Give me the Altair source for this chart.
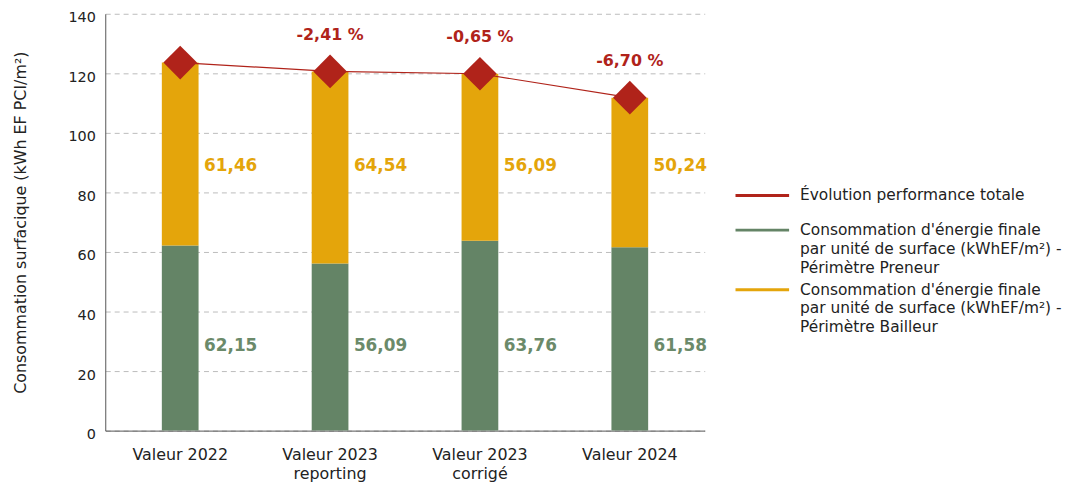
import altair as alt
import pandas as pd

categories = ["Valeur 2022", "Valeur 2023\nreporting", "Valeur 2023\ncorrigé", "Valeur 2024"]
preneur = [62.15, 56.09, 63.76, 61.58]
bailleur = [61.46, 64.54, 56.09, 50.24]
evolution = ["", "-2,41 %", "-0,65 %", "-6,70 %"]

s_evo = "Évolution performance totale"
s_pre = "Consommation d'énergie finale\npar unité de surface (kWhEF/m²) -\nPérimètre Preneur"
s_bai = "Consommation d'énergie finale\npar unité de surface (kWhEF/m²) -\nPérimètre Bailleur"
legend_names = [s_evo, s_pre, s_bai]

RED = "#B0231A"
GREEN = "#648466"
ORANGE = "#E4A50B"
legend_colors = [RED, GREEN, ORANGE]
FONT = "DejaVu Sans"

def fr(v):
    return f"{v:.2f}".replace(".", ",")

rows = []
for c, p, b in zip(categories, preneur, bailleur):
    rows.append({"cat": c, "series": s_pre, "value": p, "ord": 0})
    rows.append({"cat": c, "series": s_bai, "value": b, "ord": 1})
bars_df = pd.DataFrame(rows)

tot_df = pd.DataFrame({
    "cat": categories,
    "total": [p + b for p, b in zip(preneur, bailleur)],
    "evo": evolution,
    "pre": [fr(v) for v in preneur],
    "bai": [fr(v) for v in bailleur],
})

xenc = alt.X("cat:N", sort=categories, title=None,
             axis=alt.Axis(labelExpr="split(datum.label, '\\n')", labelAngle=0,
                           labelFontSize=16, labelColor="#222222", labelFont=FONT,
                           labelPadding=16, ticks=False, domainColor="#555555",
                           labelLineHeight=19),
             scale=alt.Scale(paddingInner=0.0, paddingOuter=0.0))

yscale = alt.Scale(domain=[0, 140])

bars = alt.Chart(bars_df).mark_bar(size=37).encode(
    x=xenc,
    y=alt.Y("value:Q", stack="zero", scale=yscale,
            title="Consommation surfacique (kWh EF PCI/m²)",
            axis=alt.Axis(values=[0, 20, 40, 60, 80, 100, 120, 140], ticks=False,
                          labelFontSize=14.5, labelColor="#222222", labelFont=FONT,
                          labelPadding=10, labelOffset=4, titleFont=FONT, titleFontSize=16,
                          titleFontWeight="normal", titleColor="#222222", titlePadding=40,
                          gridDash=[5, 4], gridColor="#BBBBBB", domainColor="#555555")),
    color=alt.Color("series:N",
                    scale=alt.Scale(domain=[s_evo, s_pre, s_bai], range=[RED, GREEN, ORANGE]),
                    legend=None),
    order=alt.Order("ord:Q"),
)

line = alt.Chart(tot_df).mark_line(color=RED, strokeWidth=1.2).encode(
    x=alt.X("cat:N", sort=categories), y=alt.Y("total:Q", scale=yscale))

pts = alt.Chart(tot_df).mark_point(shape="diamond", filled=True, size=1150,
                                   color=RED, opacity=1).encode(
    x=alt.X("cat:N", sort=categories), y=alt.Y("total:Q", scale=yscale))

evo_txt = alt.Chart(tot_df).mark_text(color=RED, fontSize=16, fontWeight="bold",
                                      font=FONT, dy=-37).encode(
    x=alt.X("cat:N", sort=categories), y=alt.Y("total:Q", scale=yscale), text="evo:N")

bai_txt = alt.Chart(tot_df).mark_text(color=ORANGE, fontSize=17, fontWeight="bold",
                                      font=FONT, align="left", dx=24).encode(
    x=alt.X("cat:N", sort=categories), y=alt.value(153), text="bai:N")

pre_txt = alt.Chart(tot_df).mark_text(color="#6B8A6A", fontSize=17, fontWeight="bold",
                                      font=FONT, align="left", dx=24).encode(
    x=alt.X("cat:N", sort=categories), y=alt.value(335), text="pre:N")

# manual legend
legend_layers = []
legend_y = [183, 218, 278]
for name, col, ly in zip(legend_names, legend_colors, legend_y):
    ldf = pd.DataFrame({"name": [name]})
    legend_layers.append(
        alt.Chart(ldf).mark_rule(color=col, strokeWidth=3).encode(
            x=alt.value(635), x2=alt.value(689), y=alt.value(ly)))
    legend_layers.append(
        alt.Chart(ldf).mark_text(align="left", baseline="alphabetic", font=FONT,
                                 fontSize=15.5, color="#222222", lineBreak="\n",
                                 lineHeight=19).encode(
            x=alt.value(700), y=alt.value(ly + 5), text="name:N"))

chart = alt.layer(bars, line, pts, evo_txt, bai_txt, pre_txt, *legend_layers).properties(
    width=604, height=420,
    autosize=alt.AutoSizeParams(type="none"),
    padding={"left": 98, "top": 4, "right": 365, "bottom": 56},
).configure_view(stroke=None).configure_axisX(grid=False)

chart.save("out.html", embed_options={"renderer": "svg", "actions": False})
